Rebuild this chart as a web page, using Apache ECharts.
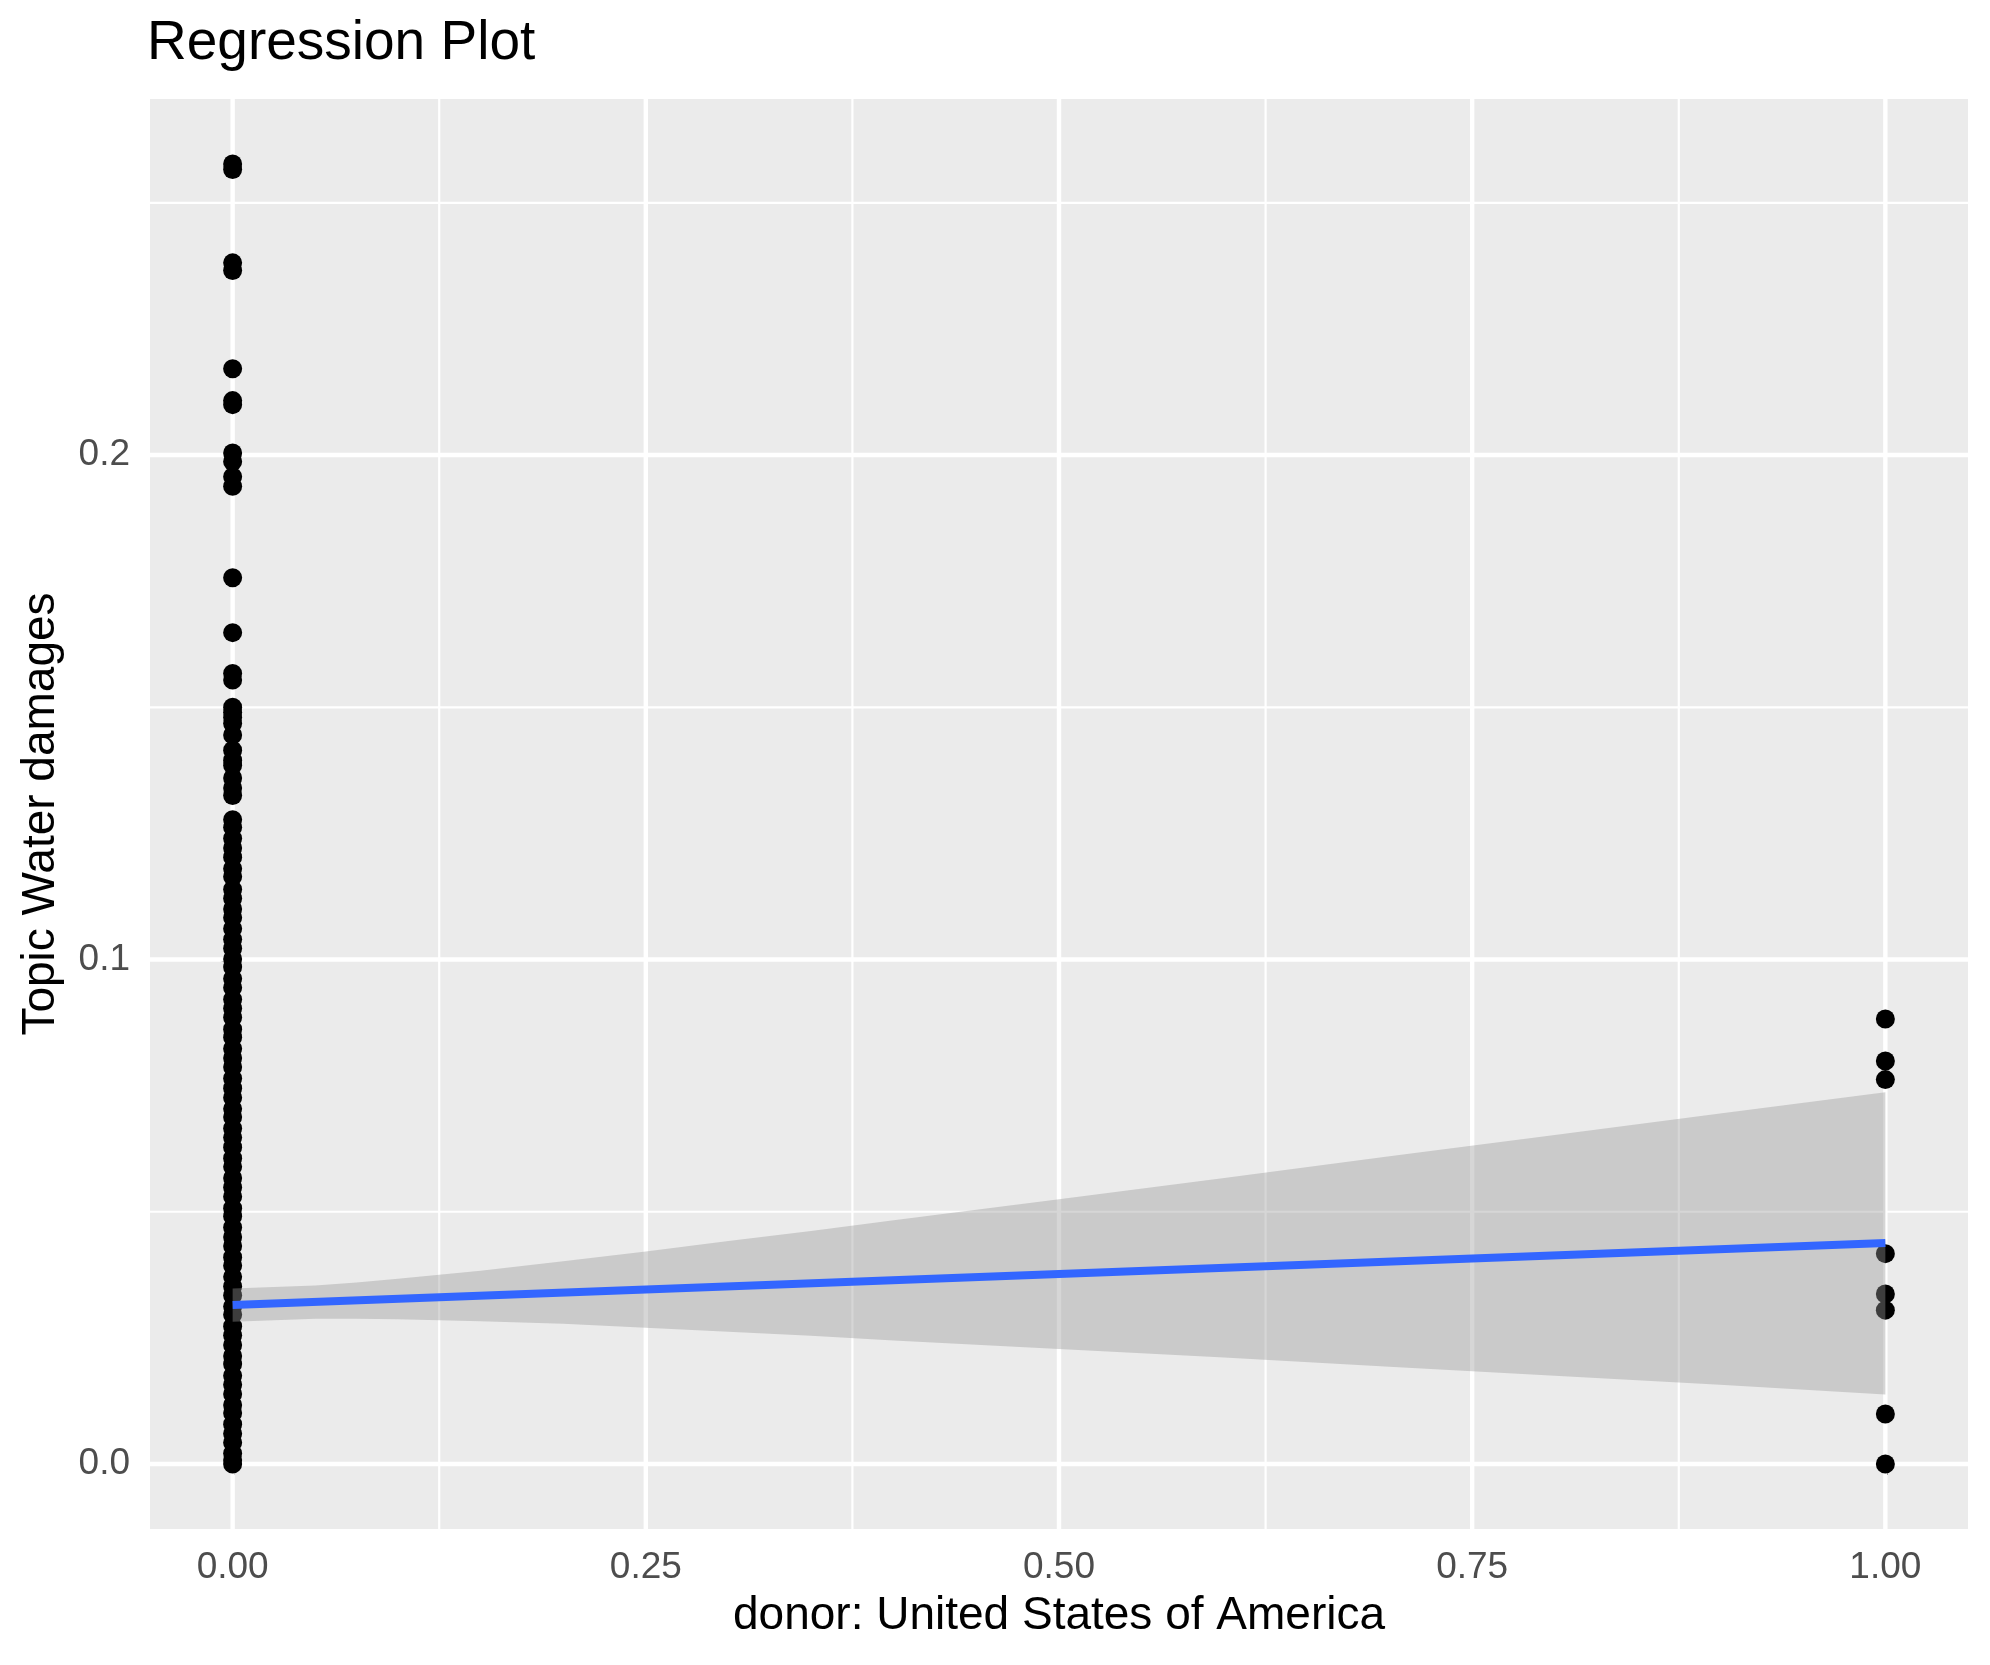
<!DOCTYPE html>
<html>
<head>
<meta charset="utf-8">
<script src="https://cdn.jsdelivr.net/npm/echarts@6/dist/echarts.min.js"></script>
<style>
html,body{margin:0;padding:0;background:#fff;}
#chart{width:1990px;height:1665px;}
</style>
</head>
<body>
<div id="chart"></div>
<script>
// ---- data ----
const chartTitle = "Regression Plot";
const xTitle = "donor: United States of America";
const yTitle = "Topic Water damages";

const xTicks = [0, 0.25, 0.5, 0.75, 1];
const xMinor = [0.125, 0.375, 0.625, 0.875];
const yTicks = [0, 0.1, 0.2];
const yMinor = [0.05, 0.15, 0.25];

// observations with donor = 0
const donor0Values = [
  0.2577, 0.2566, 0.2381, 0.2366, 0.2171, 0.2108, 0.2100, 0.2004, 0.1987, 0.1957, 0.1938,
  0.1757, 0.1648, 0.1567, 0.1554, 0.1500, 0.1490, 0.1480, 0.1468, 0.1445, 0.1415, 0.1395,
  0.1385, 0.1360, 0.1340, 0.1325,
  0.1277, 0.1262, 0.1240, 0.1221, 0.1203, 0.1180, 0.1164, 0.1139, 0.1121, 0.1100, 0.1083,
  0.1061, 0.1040, 0.1022, 0.1001, 0.0985, 0.0962, 0.0944, 0.0921, 0.0903, 0.0885, 0.0862,
  0.0846, 0.0823, 0.0805, 0.0787, 0.0764, 0.0745, 0.0726, 0.0704, 0.0688, 0.0665, 0.0647,
  0.0628, 0.0606, 0.0589, 0.0567, 0.0548, 0.0530, 0.0507, 0.0491, 0.0469, 0.0450, 0.0432,
  0.0410, 0.0393, 0.0371, 0.0352, 0.0334, 0.0312, 0.0296, 0.0273, 0.0255, 0.0236, 0.0214,
  0.0198, 0.0175, 0.0157, 0.0139, 0.0117, 0.0101, 0.0079, 0.0060, 0.0042, 0.0021, 0.0008,
  0.0000
];
// observations with donor = 1
const donor1Values = [0.0882, 0.0799, 0.0762, 0.0417, 0.0337, 0.0305, 0.0099, 0.0000];

// fitted regression line
const fitX = [0, 1];
const fitY = [0.0315, 0.0438];

// confidence band (read at several x positions)
const bandX     = [0,      0.025,  0.05,   0.075,  0.1,    0.15,   0.2,    0.25,   0.3,    0.35,   0.4,    0.5,    0.6,    0.7,    0.8,    0.9,    1.0];
const bandUpper = [0.0348, 0.0351, 0.0354, 0.0360, 0.0367, 0.0383, 0.0402, 0.0421, 0.0442, 0.0462, 0.0483, 0.0525, 0.0567, 0.0610, 0.0652, 0.0695, 0.0737];
const bandLower = [0.0282, 0.0285, 0.0288, 0.0288, 0.0287, 0.0283, 0.0278, 0.0270, 0.0262, 0.0254, 0.0245, 0.0228, 0.0211, 0.0193, 0.0175, 0.0157, 0.0138];

// ---- chart ----
const FONT = "'Liberation Sans', Arial, Helvetica, sans-serif";
const yDataMax = Math.max(...donor0Values, ...donor1Values);
const yDataMin = 0;
const yPad = (yDataMax - yDataMin) * 0.05;

const points = donor0Values.map(v => [0, v]).concat(donor1Values.map(v => [1, v]));

function vGrid(width) {
  return function (params, api) {
    const cs = params.coordSys;
    const p = api.coord([api.value(0), 0]);
    return {type: 'line', shape: {x1: p[0], y1: cs.y, x2: p[0], y2: cs.y + cs.height},
            style: {stroke: '#ffffff', lineWidth: width}};
  };
}
function hGrid(width) {
  return function (params, api) {
    const cs = params.coordSys;
    const p = api.coord([0, api.value(1)]);
    return {type: 'line', shape: {x1: cs.x, y1: p[1], x2: cs.x + cs.width, y2: p[1]},
            style: {stroke: '#ffffff', lineWidth: width}};
  };
}

const chart = echarts.init(document.getElementById('chart'), null, {renderer: 'canvas'});
chart.setOption({
  animation: false,
  backgroundColor: '#ffffff',
  title: {
    text: chartTitle, left: 147, top: 16, padding: 0,
    textStyle: {fontFamily: FONT, fontSize: 55, fontWeight: 'normal', color: '#000000'}
  },
  grid: {
    left: 150, top: 99, width: 1818, height: 1430,
    show: true, backgroundColor: '#EBEBEB', borderWidth: 0
  },
  xAxis: {
    type: 'value', min: -0.05, max: 1.05,
    name: xTitle, nameLocation: 'middle', nameGap: 64,
    nameTextStyle: {fontFamily: FONT, fontSize: 46, color: '#000000'},
    axisLine: {show: false},
    splitLine: {show: false},
    axisTick: {show: true, customValues: xTicks, length: 11, lineStyle: {color: '#333333', width: 4}},
    axisLabel: {customValues: xTicks, margin: 20, fontFamily: FONT, fontSize: 37, color: '#4D4D4D',
                formatter: v => v.toFixed(2)}
  },
  yAxis: {
    type: 'value', min: yDataMin - yPad, max: yDataMax + yPad,
    name: yTitle, nameLocation: 'middle', nameGap: 86,
    nameTextStyle: {fontFamily: FONT, fontSize: 46, color: '#000000'},
    axisLine: {show: false},
    splitLine: {show: false},
    axisTick: {show: true, customValues: yTicks, length: 11, lineStyle: {color: '#333333', width: 4}},
    axisLabel: {customValues: yTicks, margin: 20, fontFamily: FONT, fontSize: 37, color: '#4D4D4D',
                formatter: v => v.toFixed(1)}
  },
  series: [
    {type: 'custom', z: 1, silent: true, data: xMinor.map(v => [v, 0]), renderItem: vGrid(2.2)},
    {type: 'custom', z: 1, silent: true, data: yMinor.map(v => [0, v]), renderItem: hGrid(2.2)},
    {type: 'custom', z: 1, silent: true, data: xTicks.map(v => [v, 0]), renderItem: vGrid(4.4)},
    {type: 'custom', z: 1, silent: true, data: yTicks.map(v => [0, v]), renderItem: hGrid(4.4)},
    {
      type: 'scatter', z: 3, silent: true, data: points,
      symbol: 'circle', symbolSize: 19,
      itemStyle: {color: '#000000', opacity: 1}
    },
    {
      type: 'custom', z: 4, silent: true, data: [[0, 0]],
      renderItem: function (params, api) {
        const pts = [];
        for (let i = 0; i < bandX.length; i++) pts.push(api.coord([bandX[i], bandUpper[i]]));
        for (let i = bandX.length - 1; i >= 0; i--) pts.push(api.coord([bandX[i], bandLower[i]]));
        return {type: 'polygon', shape: {points: pts}, style: {fill: 'rgba(153,153,153,0.4)'}};
      }
    },
    {
      type: 'line', z: 5, silent: true, symbol: 'none',
      data: fitX.map((x, i) => [x, fitY[i]]),
      lineStyle: {color: '#3366FF', width: 8}
    }
  ]
});
</script>
</body>
</html>
